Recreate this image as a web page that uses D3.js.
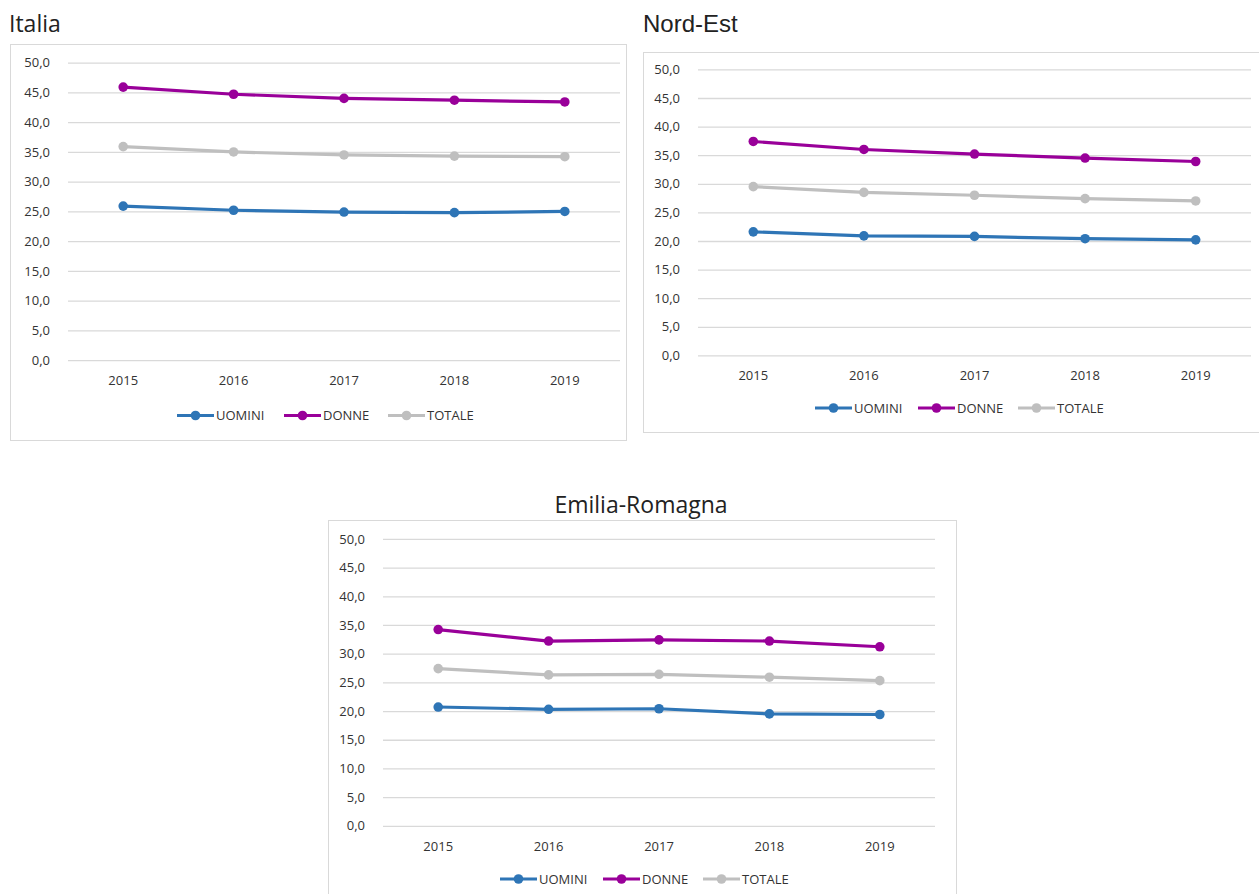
<!DOCTYPE html>
<html>
<head>
<meta charset="utf-8">
<script src="https://cdn.jsdelivr.net/npm/d3@7"></script>
<style>
  html, body { margin: 0; padding: 0; background: #fff; }
  svg { display: block; }
</style>
</head>
<body>
<svg id="chart" width="1259" height="894"></svg>
<script>
// Years on the x axis and gridline values on the y axis
const years = ["2015", "2016", "2017", "2018", "2019"];
const yTicks = [0, 5, 10, 15, 20, 25, 30, 35, 40, 45, 50];
const seriesNames = ["UOMINI", "DONNE", "TOTALE"];

// Italia
const italiaUomini = [25.9, 25.2, 24.9, 24.8, 25.0];
const italiaDonne  = [45.9, 44.7, 44.0, 43.7, 43.4];
const italiaTotale = [35.9, 35.0, 34.5, 34.3, 34.2];

// Nord-Est
const nordEstUomini = [21.6, 20.9, 20.8, 20.4, 20.2];
const nordEstDonne  = [37.4, 36.0, 35.2, 34.5, 33.9];
const nordEstTotale = [29.5, 28.5, 28.0, 27.4, 27.0];

// Emilia-Romagna
const emiliaUomini = [20.7, 20.3, 20.4, 19.5, 19.4];
const emiliaDonne  = [34.2, 32.2, 32.4, 32.2, 31.2];
const emiliaTotale = [27.4, 26.3, 26.4, 25.9, 25.3];

const colors = { UOMINI: "#2E75B6", DONNE: "#990099", TOTALE: "#BFBFBF" };

const itLocale = d3.formatLocale({ decimal: ",", thousands: ".", grouping: [3], currency: ["€", ""] });
const fmt = itLocale.format(".1f");

const svg = d3.select("#chart");

const panels = [
  {
    title: "Italia", titleX: 9, titleY: 32, titleAnchor: "start", titleFont: "'Open Sans', sans-serif", titleSize: 23,
    box: { x: 10.5, y: 44.5, w: 616, h: 396 },
    plot: { x0: 68, x1: 620, yTop: 62.7, yBottom: 360.2 },
    legendY: 415.5, legendX: [177, 284, 388], xPad: 16,
    series: [italiaUomini, italiaDonne, italiaTotale]
  },
  {
    title: "Nord-Est", titleX: 643, titleY: 32, titleAnchor: "start", titleFont: "'Liberation Sans', Arial, sans-serif", titleSize: 24,
    box: { x: 643.5, y: 52.5, w: 640, h: 380 },
    plot: { x0: 698, x1: 1251, yTop: 69.4, yBottom: 355.4 },
    legendY: 408, legendX: [815, 918, 1018], xPad: 15.5,
    series: [nordEstUomini, nordEstDonne, nordEstTotale]
  },
  {
    title: "Emilia-Romagna", titleX: 641, titleY: 513, titleAnchor: "middle", titleFont: "'Open Sans', sans-serif", titleSize: 23,
    box: { x: 328.5, y: 520.5, w: 628, h: 400 },
    plot: { x0: 383, x1: 935, yTop: 538.9, yBottom: 825.8 },
    legendY: 879, legendX: [500, 603, 703], xPad: 15.5,
    series: [emiliaUomini, emiliaDonne, emiliaTotale]
  }
];

const labelFont = "'Open Sans', sans-serif";
const labelColor = "#333";

panels.forEach(p => {
  const g = svg.append("g");

  // chart frame
  g.append("rect")
    .attr("x", p.box.x).attr("y", p.box.y)
    .attr("width", p.box.w).attr("height", p.box.h)
    .attr("fill", "#fff").attr("stroke", "#D9D9D9").attr("stroke-width", 1);

  // title
  g.append("text")
    .attr("x", p.titleX).attr("y", p.titleY)
    .attr("text-anchor", p.titleAnchor)
    .attr("font-family", p.titleFont)
    .attr("font-size", p.titleSize)
    .attr("fill", "#222")
    .text(p.title);

  const x = d3.scaleBand().domain(years).range([p.plot.x0, p.plot.x1]);
  const y = d3.scaleLinear().domain([0, 50]).range([p.plot.yBottom, p.plot.yTop]);

  // y axis: gridlines plus labels
  const yAxis = d3.axisLeft(y)
    .tickValues(yTicks)
    .tickFormat(fmt)
    .tickSize(-(p.plot.x1 - p.plot.x0))
    .tickPadding(18);
  const yg = g.append("g")
    .attr("transform", `translate(${p.plot.x0},0)`)
    .call(yAxis);
  yg.select(".domain").remove();
  yg.selectAll(".tick line").attr("stroke", "#D9D9D9").attr("stroke-width", 1.3);
  yg.selectAll(".tick text")
    .attr("font-family", labelFont).attr("font-size", 13).attr("fill", labelColor);

  // x axis: year labels only
  const xAxis = d3.axisBottom(x).tickSize(0).tickPadding(p.xPad);
  const xg = g.append("g")
    .attr("transform", `translate(0,${p.plot.yBottom})`)
    .call(xAxis);
  xg.select(".domain").remove();
  xg.selectAll(".tick text")
    .attr("font-family", labelFont).attr("font-size", 13).attr("fill", labelColor);

  const line = d3.line()
    .x((d, i) => x(years[i]) + x.bandwidth() / 2)
    .y(d => y(d));

  p.series.forEach((vals, si) => {
    const c = colors[seriesNames[si]];
    g.append("path")
      .datum(vals)
      .attr("d", line)
      .attr("fill", "none")
      .attr("stroke", c)
      .attr("stroke-width", 3.2)
      .attr("stroke-linejoin", "round")
      .attr("stroke-linecap", "round");
    g.selectAll(null)
      .data(vals)
      .enter().append("circle")
      .attr("cx", (d, i) => x(years[i]) + x.bandwidth() / 2)
      .attr("cy", d => y(d))
      .attr("r", 4.8)
      .attr("fill", c);
  });

  // legend
  seriesNames.forEach((name, si) => {
    const lx = p.legendX[si];
    const c = colors[name];
    g.append("line")
      .attr("x1", lx).attr("x2", lx + 37)
      .attr("y1", p.legendY).attr("y2", p.legendY)
      .attr("stroke", c).attr("stroke-width", 3.2);
    g.append("circle")
      .attr("cx", lx + 18.5).attr("cy", p.legendY).attr("r", 4.8).attr("fill", c);
    g.append("text")
      .attr("x", lx + 39).attr("y", p.legendY)
      .attr("dy", "0.35em")
      .attr("font-family", labelFont).attr("font-size", 13).attr("fill", labelColor)
      .text(name);
  });
});
</script>
</body>
</html>
